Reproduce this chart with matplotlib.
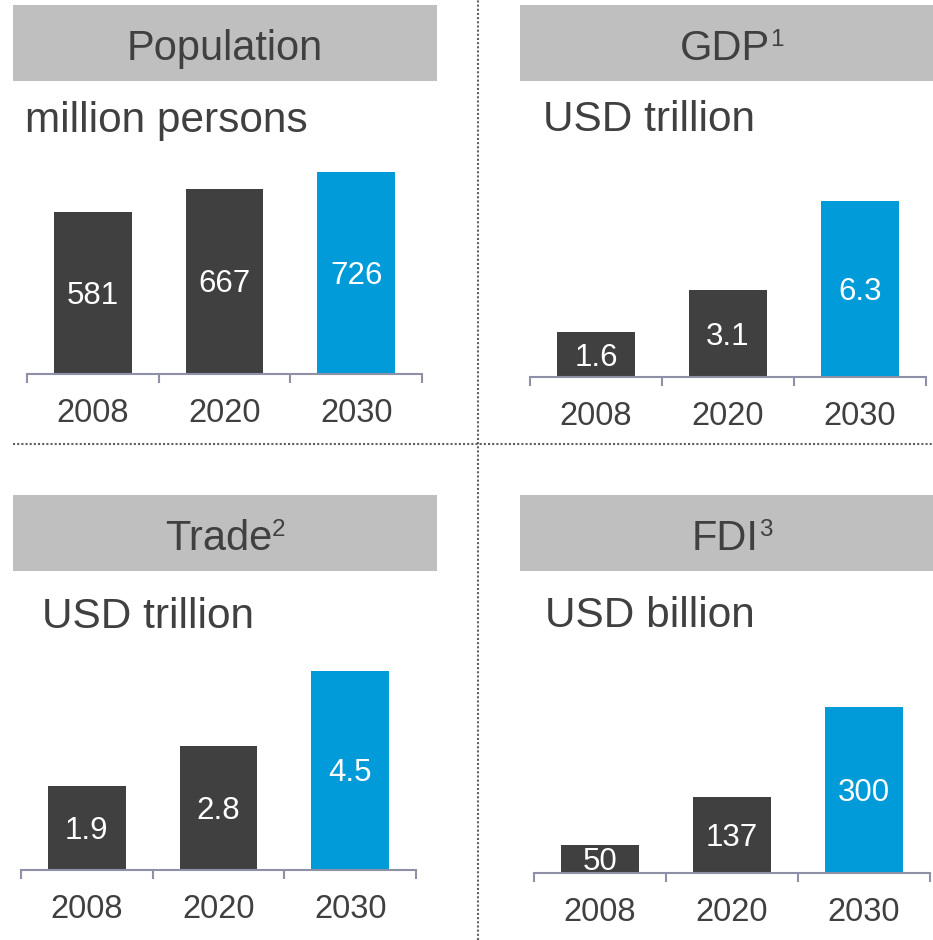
import matplotlib
matplotlib.use('Agg')
import matplotlib.pyplot as plt
from matplotlib.patches import Rectangle
from matplotlib.lines import Line2D

plt.rcParams['font.family'] = ['Liberation Sans', 'DejaVu Sans']

W, H = 933, 940
TEXT = '#404040'
DARK = '#404040'
BLUE = '#009BD8'
AXIS = '#8E90A8'
HEADER = '#BFBFBF'

years = ['2008', '2020', '2030']

population = [581, 667, 726]
gdp = [1.6, 3.1, 6.3]
trade = [1.9, 2.8, 4.5]
fdi = [50, 137, 300]

titles = ['Population', 'GDP', 'Trade', 'FDI']
footnotes = ['', '1', '2', '3']
units = ['million persons', 'USD trillion', 'USD trillion', 'USD billion']

# layout in pixels (from top-left): header box, unit text, axis extent, scale
panels = [
    dict(values=population, fmt='{:.0f}', box=(13, 437, 5, 81), hx=225,
         unit_xy=(25, 132), axis=(27, 422, 374), scale=0.278),
    dict(values=gdp, fmt='{:.1f}', box=(520, 933, 5, 81), hx=732,
         unit_xy=(543, 131), axis=(530, 926, 377), scale=28.0),
    dict(values=trade, fmt='{:.1f}', box=(13, 437, 495, 571), hx=225,
         unit_xy=(42, 628), axis=(21, 416, 870), scale=44.3),
    dict(values=fdi, fmt='{:.0f}', box=(520, 933, 495, 571), hx=732,
         unit_xy=(545, 627), axis=(534, 930, 873), scale=0.553),
]

fig = plt.figure(figsize=(W / 100, H / 100), dpi=100)
renderer = fig.canvas.get_renderer()

# dotted separators
fig.add_artist(Line2D([478 / W, 478 / W], [0, 1], transform=fig.transFigure,
                      linestyle=(0, (1, 1)), lw=1.5, color='#606060'))
fig.add_artist(Line2D([13 / W, 1], [1 - 444 / H, 1 - 444 / H], transform=fig.transFigure,
                      linestyle=(0, (1, 1)), lw=1.5, color='#606060'))

for title, sup, unit, p in zip(titles, footnotes, units, panels):
    x0, x1, y0, y1 = p['box']
    fig.add_artist(Rectangle((x0 / W, 1 - y1 / H), (x1 - x0) / W, (y1 - y0) / H,
                             transform=fig.transFigure, color=HEADER, lw=0))

    # header title with superscript footnote, centred as one block
    base = y0 + 55
    t = fig.text(0, 1 - base / H, title, fontsize=30, color=TEXT, va='baseline')
    s = fig.text(0, 1 - (base - 14) / H, sup, fontsize=17.5, color=TEXT, va='baseline')
    w_main = t.get_window_extent(renderer).width
    w_sup = s.get_window_extent(renderer).width if sup else 0
    start = p['hx'] - (w_main + w_sup) / 2
    t.set_x(start / W)
    s.set_x((start + w_main) / W)

    ux, ub = p['unit_xy']
    fig.text(ux / W, 1 - ub / H, unit, fontsize=30.5, color=TEXT, va='baseline', ha='left')

    ax0, ax1, ay = p['axis']
    h = 240
    ax = fig.add_axes([ax0 / W, 1 - ay / H, (ax1 - ax0) / W, h / H])
    vals = p['values']
    colors = [DARK, DARK, BLUE]
    ax.bar(range(3), vals, width=0.592, color=colors, zorder=1)
    ax.set_xlim(-0.5, 2.5)
    ax.set_ylim(0, h / p['scale'])
    for side in ['top', 'left', 'right']:
        ax.spines[side].set_visible(False)
    ax.spines['bottom'].set_color(AXIS)
    ax.spines['bottom'].set_linewidth(1.5)
    ax.spines['bottom'].set_zorder(3)
    ax.set_xticks([-0.5, 0.5, 1.5, 2.5])
    ax.set_xticklabels([])
    ax.tick_params(axis='x', direction='out', length=6.5, width=1.5, color=AXIS)
    ax.set_yticks([])
    ax.patch.set_visible(False)

    for i, (yr, v) in enumerate(zip(years, vals)):
        ax.annotate(yr, (i, 0), xytext=(0, -48), textcoords='offset pixels',
                    ha='center', va='baseline', fontsize=23.5, color=TEXT,
                    annotation_clip=False)
        ax.annotate(p['fmt'].format(v), (i, v / 2), xytext=(0, -11),
                    textcoords='offset pixels', ha='center', va='baseline',
                    fontsize=22.5, color='white')

fig.savefig('out.png', dpi=100)
